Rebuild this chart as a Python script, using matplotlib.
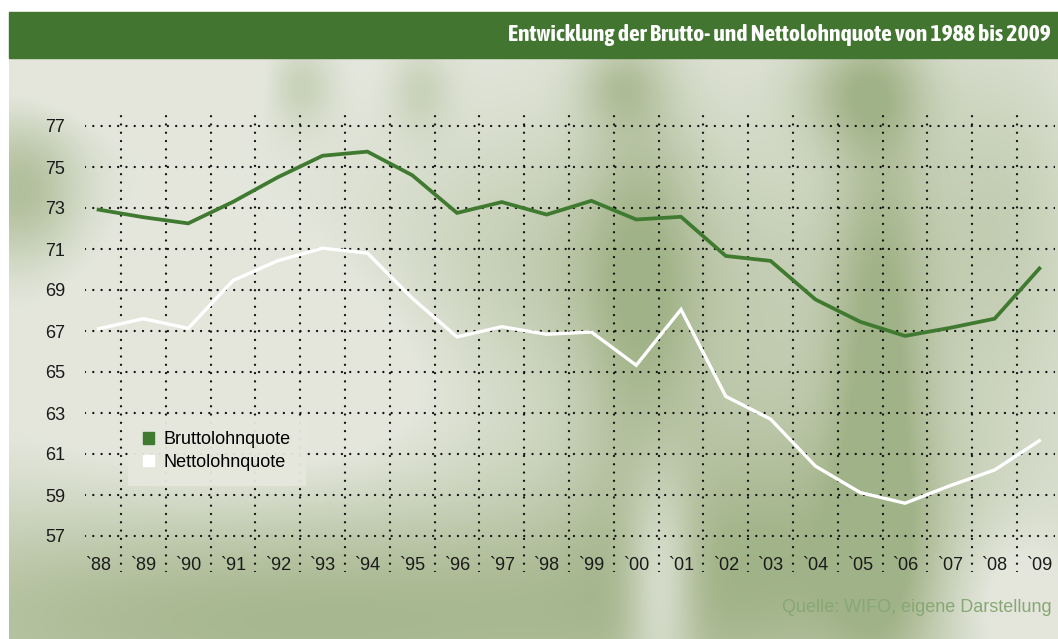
import numpy as np
import matplotlib
matplotlib.use("Agg")
import matplotlib.pyplot as plt
from matplotlib.patches import Rectangle, Patch
from matplotlib import font_manager

# data
years = list(range(1988, 2010))
brutto = [72.92, 72.55, 72.25, 73.30, 74.50, 75.55, 75.75, 74.60, 72.76, 73.29, 72.68,
          73.35, 72.44, 72.57, 70.66, 70.42, 68.54, 67.45, 66.76, 67.15, 67.60, 70.05]
netto = [67.11, 67.60, 67.13, 69.46, 70.43, 71.04, 70.80, 68.60, 66.71, 67.21, 66.84,
         66.95, 65.33, 68.05, 63.81, 62.70, 60.41, 59.12, 58.60, 59.45, 60.22, 61.65]
y_ticks = list(range(57, 78, 2))
x_labels = ["`%02d" % (y % 100) for y in years]
series_names = ["Bruttolohnquote", "Nettolohnquote"]
title = "Entwicklung der Brutto- und Nettolohnquote von 1988 bis 2009"
source = "Quelle: WIFO, eigene Darstellung"

W, H = 1058, 639
GREEN = "#3f7a30"
BAR = "#417530"

# look for a narrow bold face for the title
title_font, title_stretch = "DejaVu Sans", "normal"
for f in font_manager.fontManager.ttflist:
    if ("Narrow" in f.name or "Condensed" in f.name) and f.weight in (700, "bold"):
        title_font = f.name
        break
else:
    for f in font_manager.fontManager.ttflist:
        if f.stretch in ("condensed", "semi-condensed", "extra-condensed") and f.weight in (700, "bold"):
            title_font, title_stretch = f.name, f.stretch
            break

plt.rcParams["font.family"] = ["Liberation Sans", "DejaVu Sans"]

fig = plt.figure(figsize=(W / 100, H / 100), dpi=100)

# soft blurred background, built from a few smooth blobs
xx, yy = np.meshgrid(np.arange(W), np.arange(H))
blobs = [  # cx, cy, sx, sy, amount of green
    (300, 620, 420, 90, 0.9),
    (20, 190, 45, 55, 0.75),
    (300, 85, 25, 30, 0.5),
    (420, 90, 22, 30, 0.35),
    (620, 85, 30, 30, 0.45),
    (860, 90, 45, 40, 0.65),
    (880, 360, 35, 210, 0.7),
    (640, 280, 40, 160, 0.5),
    (560, 260, 150, 90, 0.35),
    (760, 330, 200, 160, 0.35),
    (800, 540, 150, 100, 0.5),
    (1000, 210, 60, 120, 0.35),
    (660, 580, 25, 80, -0.8),
    (1010, 600, 50, 60, -0.5),
    (250, 370, 130, 80, -0.45),
    (140, 80, 120, 30, -0.3),
]
w = np.zeros((H, W))
for cx, cy, sx, sy, a in blobs:
    w += a * np.exp(-((xx - cx) ** 2 / (2 * sx ** 2) + (yy - cy) ** 2 / (2 * sy ** 2)))
w = np.clip(w, 0, 1)[..., None]
light = np.array([0.895, 0.905, 0.865])
green = np.array([0.63, 0.70, 0.53])
bg = light * (1 - w) + green * w
bg[:12, :] = 1.0
bg[:, :9] = 1.0

bax = fig.add_axes([0, 0, 1, 1])
bax.imshow(bg, extent=(0, W, H, 0), aspect="auto")
bax.add_patch(Rectangle((9, 12), W - 9, 46, color=BAR))
bax.set_xlim(0, W)
bax.set_ylim(H, 0)
bax.axis("off")

t = bax.text(1051, 35, title, color="white", fontsize=16, fontweight="bold",
             family=title_font, fontstretch=title_stretch, ha="right", va="center")
# size the title so it is as wide as in the reference (about 541 px)
renderer = fig.canvas.get_renderer()
tw = t.get_window_extent(renderer).width
t.set_fontsize(min(16 * 541 / tw, 19))

bax.text(1052, 607, source, color="#88a775", fontsize=13, ha="right", va="center")

# main chart area in pixels: x 85..1055, y 112..572
ax = fig.add_axes([85 / W, 1 - 572 / H, 970 / W, 460 / H])
ax.patch.set_alpha(0)
px_x = 44.8
ax.set_xlim(1988 - (98.6 - 85) / px_x, 2009 + (1055 - 1039.4) / px_x)
px_y = 20.5
ax.set_ylim(57 - 36 / px_y, 77 + 14 / px_y)
for s in ax.spines.values():
    s.set_visible(False)

dots = dict(color="#111111", lw=1.7, ls=(0, (0.01, 3.5)), dash_capstyle="round", zorder=1)
for y in y_ticks:
    ax.axhline(y, **dots)
for yr in years[:-1]:
    ax.axvline(yr + 0.5, **dots)

ax.plot(years, brutto, color=GREEN, lw=2.7, zorder=3, solid_joinstyle="miter")
ax.plot(years, netto, color="white", lw=2.4, zorder=3, solid_joinstyle="miter")

ax.set_yticks(y_ticks)
ax.set_yticklabels([str(v) for v in y_ticks])
ax.tick_params(axis="y", length=0, pad=14.4, labelsize=13, labelcolor="#1a1a1a")
ax.set_xticks([])
for yr, lab in zip(years, x_labels):
    ax.text(yr, 7 / 460, lab, transform=ax.get_xaxis_transform(), ha="center",
            va="center", fontsize=13, color="#1a1a1a")

handles = [Patch(color=GREEN), Patch(color="white")]
ax.legend(handles, series_names, loc="upper left",
          bbox_to_anchor=(128 / W, 1 - 416 / H), bbox_transform=fig.transFigure,
          fontsize=13, frameon=True, fancybox=False, facecolor=(0.9, 0.91, 0.87),
          framealpha=0.95, edgecolor="none", handlelength=0.6, handleheight=0.6,
          handletextpad=0.5, labelspacing=0.3, borderpad=0.85, borderaxespad=0)

fig.savefig("out.png", dpi=100)
